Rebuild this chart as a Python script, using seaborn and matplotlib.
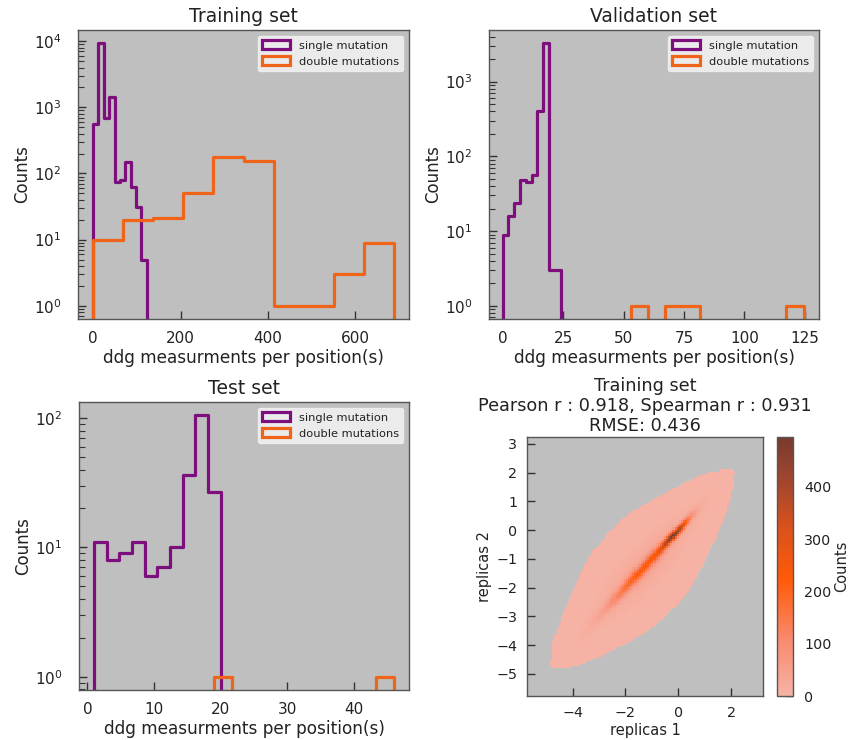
import numpy as np
import pandas as pd
import matplotlib
matplotlib.use("Agg")
import matplotlib.pyplot as plt
import matplotlib.patches as mpatches
from matplotlib.colors import LinearSegmentedColormap
from matplotlib.ticker import MultipleLocator
import seaborn as sns

# ---------------- data ----------------
SINGLE_LABEL = "single mutation"
DOUBLE_LABEL = "double mutations"
XLABEL = "ddg measurments per position(s)"

# training set histograms (10 bins each, value range of the data)
train_single_range = (0, 123)
train_single_counts = [560, 9500, 700, 1450, 75, 80, 150, 63, 31, 5]
train_double_range = (0, 688)
train_double_counts = [10, 20, 21, 50, 175, 155, 1, 1, 3, 9]

# validation set histograms
val_single_range = (0, 24)
val_single_counts = [9, 16, 24, 49, 45, 57, 405, 3300, 3, 3]
val_double_range = (53, 124.5)
val_double_counts = [1, 0, 1, 1, 0, 0, 0, 0, 0, 1]

# test set histograms
test_single_range = (1, 20)
test_single_counts = [11, 8, 9, 11, 6, 7, 10, 36, 106, 27]
test_double_range = (19, 46)
test_double_counts = [1, 0, 0, 0, 0, 0, 0, 0, 0, 1]

# replicas density (training set): value ranges and estimated shape of the cloud
rep_x_range = (-5.73, 3.21)
rep_y_range = (-5.77, 3.24)
rep_bins = 112
# components along the diagonal: centre (s), spread along (s) and across (d = y - x), peak count
rep_center_s = [-0.15, -1.3, -1.3, -1.4, -1.4]
rep_sigma_s = [0.35, 0.9, 1.0, 1.5, 1.0]
rep_sigma_d = [0.10, 0.17, 0.5, 0.9, 1.3]
rep_peak = [380, 190, 30, 4, 3]
pearson_r, spearman_r, rmse = 0.918, 0.931, 0.436
cbar_max = 495

PURPLE = "#7d0f7d"
ORANGE = "#ef6418"
BG = "#bfbfbf"

# ---------------- style ----------------
sns.set_theme(style="white")
plt.rcParams.update({
    "font.family": ["DejaVu Sans"],
    "axes.facecolor": BG,
    "axes.edgecolor": "#555555",
    "axes.linewidth": 1.0,
    "xtick.direction": "in",
    "ytick.direction": "in",
    "xtick.color": "#333333",
    "ytick.color": "#333333",
    "xtick.labelcolor": "#222222",
    "ytick.labelcolor": "#222222",
    "axes.labelcolor": "#222222",
    "text.color": "#222222",
})

fig = plt.figure(figsize=(8.51, 7.40), dpi=100)
W, H = 851.0, 740.0


def axes_px(l, t, r, b):
    return fig.add_axes([l / W, 1 - b / H, (r - l) / W, (b - t) / H])


ax1 = axes_px(78, 30, 409, 319)
ax2 = axes_px(489, 30, 819, 319)
ax3 = axes_px(79, 402, 409, 690)
ax4 = axes_px(527, 437, 763, 696)
cax = axes_px(777, 437, 793, 696)

LW = 2.3


def draw_hist(ax, rng, counts, color):
    lo, hi = rng
    n = len(counts)
    w = (hi - lo) / n
    centers = lo + w * (np.arange(n) + 0.5)
    df = pd.DataFrame({"v": centers, "w": np.asarray(counts, dtype=float)})
    # one empty bin on each side so the outline drops to the baseline at both ends
    sns.histplot(data=df, x="v", weights="w", bins=n + 2, binrange=(lo - w, hi + w),
                 element="step", fill=False, color=color, linewidth=LW, ax=ax)


def style_hist_ax(ax, title, xlim, ylim):
    ax.set_yscale("log")
    ax.set_xlim(*xlim)
    ax.set_ylim(*ylim)
    ax.set_title(title, fontsize=13.5, pad=6)
    ax.set_xlabel(XLABEL, fontsize=12.2, labelpad=2)
    ax.set_ylabel("Counts", fontsize=12, labelpad=2)
    ax.tick_params(axis="x", which="major", length=6, width=1, labelsize=11,
                   bottom=True, top=False, pad=9)
    ax.tick_params(axis="y", which="major", length=6, width=1, labelsize=11,
                   left=True, right=False, pad=12)
    ax.tick_params(axis="y", which="minor", length=4.5, width=0.8, left=True, right=False)
    handles = [
        mpatches.Patch(facecolor="none", edgecolor=PURPLE, linewidth=LW, label=SINGLE_LABEL),
        mpatches.Patch(facecolor="none", edgecolor=ORANGE, linewidth=LW, label=DOUBLE_LABEL),
    ]
    ax.legend(handles=handles, loc="upper right", fontsize=8.2, frameon=True,
              facecolor="#f0f0f0", edgecolor="#f0f0f0", framealpha=0.9,
              handlelength=2.4, handleheight=0.8, borderaxespad=0.5)


# --- histograms ---
for ax, sr, sc, dr, dc in [
    (ax1, train_single_range, train_single_counts, train_double_range, train_double_counts),
    (ax2, val_single_range, val_single_counts, val_double_range, val_double_counts),
    (ax3, test_single_range, test_single_counts, test_double_range, test_double_counts),
]:
    draw_hist(ax, sr, sc, PURPLE)
    draw_hist(ax, dr, dc, ORANGE)

style_hist_ax(ax1, "Training set", (-34.4, 722.4), (0.63, 14800))
style_hist_ax(ax2, "Validation set", (-5.6, 130.8), (0.667, 4900))
style_hist_ax(ax3, "Test set", (-1.25, 48.25), (0.79, 133))
ax2.xaxis.set_major_locator(MultipleLocator(25))

# --- replicas 2D histogram ---
xe = np.linspace(*rep_x_range, rep_bins + 1)
ye = np.linspace(*rep_y_range, rep_bins + 1)
xc = (xe[:-1] + xe[1:]) / 2
yc = (ye[:-1] + ye[1:]) / 2
X, Y = np.meshgrid(xc, yc)
S = (X + Y) / 2
D = Y - X
dens = np.zeros_like(X)
for s0, ss, sd, pk in zip(rep_center_s, rep_sigma_s, rep_sigma_d, rep_peak):
    dens += pk * np.exp(-((S - s0) ** 2) / (2 * ss ** 2) - D ** 2 / (2 * sd ** 2))
counts2d = np.round(dens)
keep = counts2d.ravel() > 0
rep_df = pd.DataFrame({"r1": X.ravel()[keep], "r2": Y.ravel()[keep],
                       "n": counts2d.ravel()[keep]})

cmap = LinearSegmentedColormap.from_list(
    "rep", [(0.0, "#f6b3a5"), (0.2, "#f98d74"), (0.45, "#ff5a08"),
            (0.65, "#d9521c"), (0.85, "#9c452f"), (1.0, "#7a3a2e")])

sns.histplot(data=rep_df, x="r1", y="r2", weights="n",
             bins=[xe, ye],
             cmap=cmap, vmin=0, vmax=cbar_max, cbar=True, cbar_ax=cax,
             cbar_kws={"label": "Counts"}, ax=ax4)
for coll in ax4.collections:
    coll.set_clim(0, cbar_max)
ax4.set_xlim(*rep_x_range)
ax4.set_ylim(*rep_y_range)
ax4.set_title(f"Training set\nPearson r : {pearson_r:.3f}, Spearman r : {spearman_r:.3f}\nRMSE: {rmse:.3f}",
              fontsize=12.7, pad=4, linespacing=1.15)
ax4.set_xlabel("replicas 1", fontsize=10.5, labelpad=2)
ax4.set_ylabel("replicas 2", fontsize=10.5, labelpad=3)
ax4.set_xticks([-4, -2, 0, 2])
ax4.set_yticks([-5, -4, -3, -2, -1, 0, 1, 2, 3])
ax4.tick_params(axis="both", which="major", length=6, width=1, labelsize=10.3,
                left=True, bottom=True, top=False, right=False, pad=7)
cax.tick_params(axis="y", direction="in", length=6, width=1, labelsize=10.3, pad=8,
                right=True, left=False)
cax.set_ylabel("Counts", fontsize=10.5, labelpad=2)
cax.set_yticks([0, 100, 200, 300, 400])

fig.savefig("out.png", dpi=100)
